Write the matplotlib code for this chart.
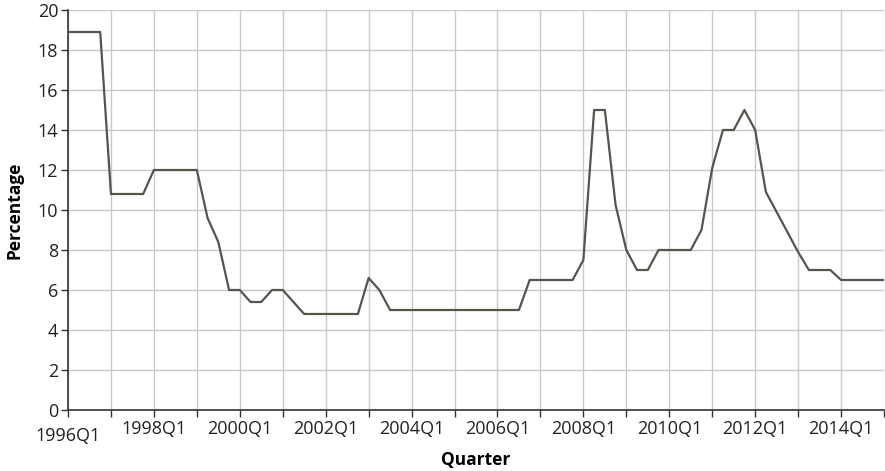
import matplotlib.pyplot as plt

plt.rcParams['font.family'] = ['Open Sans', 'DejaVu Sans']

# quarters from 1996Q1 to 2015Q1
quarters = []
for year in range(1996, 2016):
    for q in range(1, 5):
        quarters.append(str(year) + "Q" + str(q))
quarters = quarters[:77]

rates = [18.9, 18.9, 18.9, 18.9,
         10.8, 10.8, 10.8, 10.8,
         12.0, 12.0, 12.0, 12.0,
         12.0, 9.6, 8.4, 6.0,
         6.0, 5.4, 5.4, 6.0,
         6.0, 5.4, 4.8, 4.8,
         4.8, 4.8, 4.8, 4.8,
         6.6, 6.0, 5.0, 5.0,
         5.0, 5.0, 5.0, 5.0,
         5.0, 5.0, 5.0, 5.0,
         5.0, 5.0, 5.0, 6.5,
         6.5, 6.5, 6.5, 6.5,
         7.5, 15.0, 15.0, 10.25,
         8.0, 7.0, 7.0, 8.0,
         8.0, 8.0, 8.0, 9.0,
         12.1, 14.0, 14.0, 15.0,
         14.0, 10.9, 9.9, 8.9,
         7.9, 7.0, 7.0, 7.0,
         6.5, 6.5, 6.5, 6.5,
         6.5]

y_ticks = [0, 2, 4, 6, 8, 10, 12, 14, 16, 18, 20]

fig = plt.figure(figsize=(8.85, 4.71), dpi=100)
ax = fig.add_axes([68 / 885, 61 / 471, 816 / 885, 400 / 471])

x = list(range(len(rates)))
ax.plot(x, rates, color="#55554d", linewidth=1.6, zorder=3)

ax.set_xlim(0, len(rates) - 1)
ax.set_ylim(0, 20)
ax.set_yticks(y_ticks)

# grid every year, labels every two years
ax.set_xticks(list(range(0, len(rates), 4)))
ax.set_xticklabels([quarters[i] if i % 8 == 0 else "" for i in range(0, len(rates), 4)])
ax.grid(True, color="#c8c8c8", linewidth=1.0, zorder=0)

ax.tick_params(axis="both", direction="out", length=5, width=1, color="#333333",
               labelsize=13, labelcolor="#222222", pad=2)
# first label sits lower, like the original
ax.get_xticklabels()[0].set_y(-0.017)

for side in ["top", "right"]:
    ax.spines[side].set_visible(False)
for side in ["left", "bottom"]:
    ax.spines[side].set_color("#333333")
    ax.spines[side].set_linewidth(1.2)

ax.set_xlabel("Quarter", fontsize=12.5, fontweight="bold")
ax.set_ylabel("Percentage", fontsize=12.5, fontweight="bold")
ax.xaxis.set_label_coords(0.5, -0.125)
ax.yaxis.set_label_coords(-0.066, 0.5)
ax.xaxis.label.set_va("center")
ax.yaxis.label.set_va("center")

fig.savefig("out.png", dpi=100)
